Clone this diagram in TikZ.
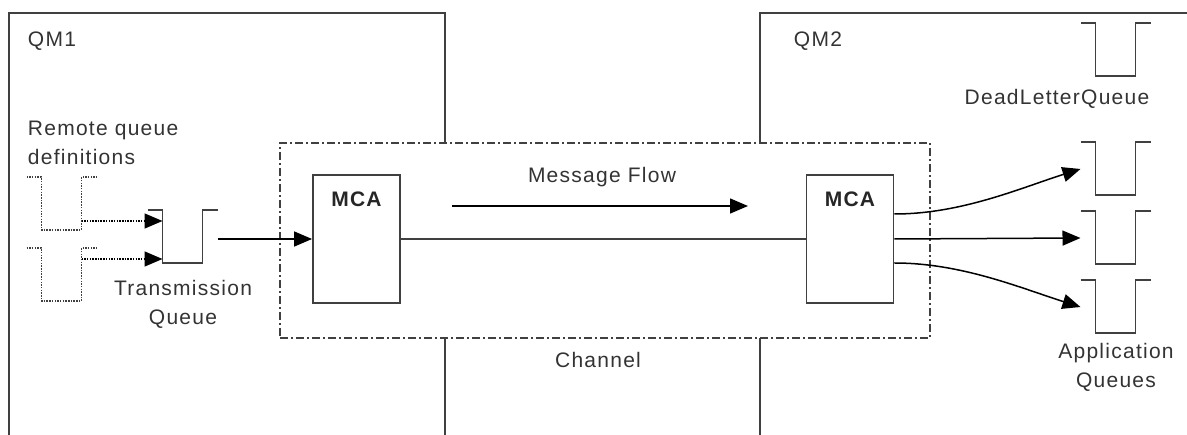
\documentclass[tikz,border=0pt]{standalone}
\usepackage{fontspec}
\setmainfont[LetterSpace=6]{Liberation Sans}
\usetikzlibrary{arrows.meta,positioning,calc}

\begin{document}
\begin{tikzpicture}[x=1pt, y=-1pt, line width=1.9pt, draw=black!75,
    font=\fontsize{21}{29}\selectfont,
    lab/.style = {text=black!80, inner sep=0pt, align=center},
    mca/.style = {draw, rectangle, minimum width=87pt, minimum height=128pt, inner sep=0pt,
        label={[anchor=base, yshift=-32pt, font=\fontsize{21}{29}\selectfont\bfseries, text=black!85]north:MCA}},
    chan/.style = {draw, rectangle, inner sep=0pt, minimum width=650pt, minimum height=195pt,
        dash pattern=on 8pt off 3pt on 2pt off 3pt},
    flow/.style = {draw=black, line width=1.5pt, -{Triangle[length=18pt,width=15pt]}},
    rq/.style = {line width=1.4pt, dash pattern=on 1.5pt off 1.2pt},
    queue/.pic = {
        \draw[pic actions] (-35,0) -- (-20,0) -- (-20,53) -- (20,53) -- (20,0) -- (35,0);
        \coordinate (-lip) at (-35,27);
        \coordinate (-lipr) at (35,29);
        \coordinate (-wl) at (-20,0);
        \coordinate (-wr) at (20,0);
    }]
    \useasboundingbox (0,0) rectangle (1187,435);

    % Queue manager
    \draw (445,143) -- (445,13) -- (9,13) -- (9,435);
    \draw (445,338) -- (445,435);
    \draw (760,143) -- (760,13) -- (1187,13);
    \draw (760,338) -- (760,435);
    \node[lab, anchor=base west] (qm1) at (27,47) {QM1};
    \node[lab, anchor=base west] (qm2) at (793,47) {QM2};

    % Canale
    \node[chan] (ch) at (605,240.5) {};
    \node[lab, anchor=base] (chlab) at (598,368) {Channel};
    \node[mca] (mca1) at (356.5,239) {};
    \node[mca] (mca2) at (850,239) {};
    \draw (mca1) -- (mca2);
    \node[lab, anchor=base] (mf) at (602,183) {Message Flow};
    \coordinate (mfa) at (452,206);
    \coordinate (mfb) at (748,206);
    \draw[flow] (mfa) -- (mfb);

    % Code
    \pic[rq] (rq1) at (61.5,177) {queue};
    \pic[rq] (rq2) at (61.5,248) {queue};
    \pic (tq) at (182.5,210) {queue};
    \node[lab, anchor=base west, align=left] (rqd) at (27,165) {Remote queue\\definitions};
    \node[lab, anchor=base] (tql) at (183,325) {Transmission\\Queue};

    \draw[flow, rq] ($(rq1-wr)+(0,44)$) -- ($(tq-wl)+(0,11)$);
    \draw[flow, rq] ($(rq2-wr)+(0,11)$) -- ($(tq-wl)+(0,49)$);
    \draw[flow] (tq-lipr) -- (tq-lipr -| mca1.west);

    \pic (dlq) at (1115.5,23) {queue};
    \pic (aq1) at (1115.5,142) {queue};
    \pic (aq2) at (1115.5,211) {queue};
    \pic (aq3) at (1115.5,280) {queue};
    \node[lab, anchor=base] (dlql) at (1057,105) {DeadLetterQueue};
    \node[lab, anchor=base] (aql) at (1116,388) {Application\\Queues};

    \draw[flow] ([yshift=25pt]mca2.east) .. controls +(67,0) and +(-60,19) .. (aq1-lip);
    \draw[flow] (mca2.east) -- (aq2-lip);
    \draw[flow] ([yshift=-24pt]mca2.east) .. controls +(67,0) and +(-60,-19) .. (aq3-lip);
\end{tikzpicture}
\end{document}
